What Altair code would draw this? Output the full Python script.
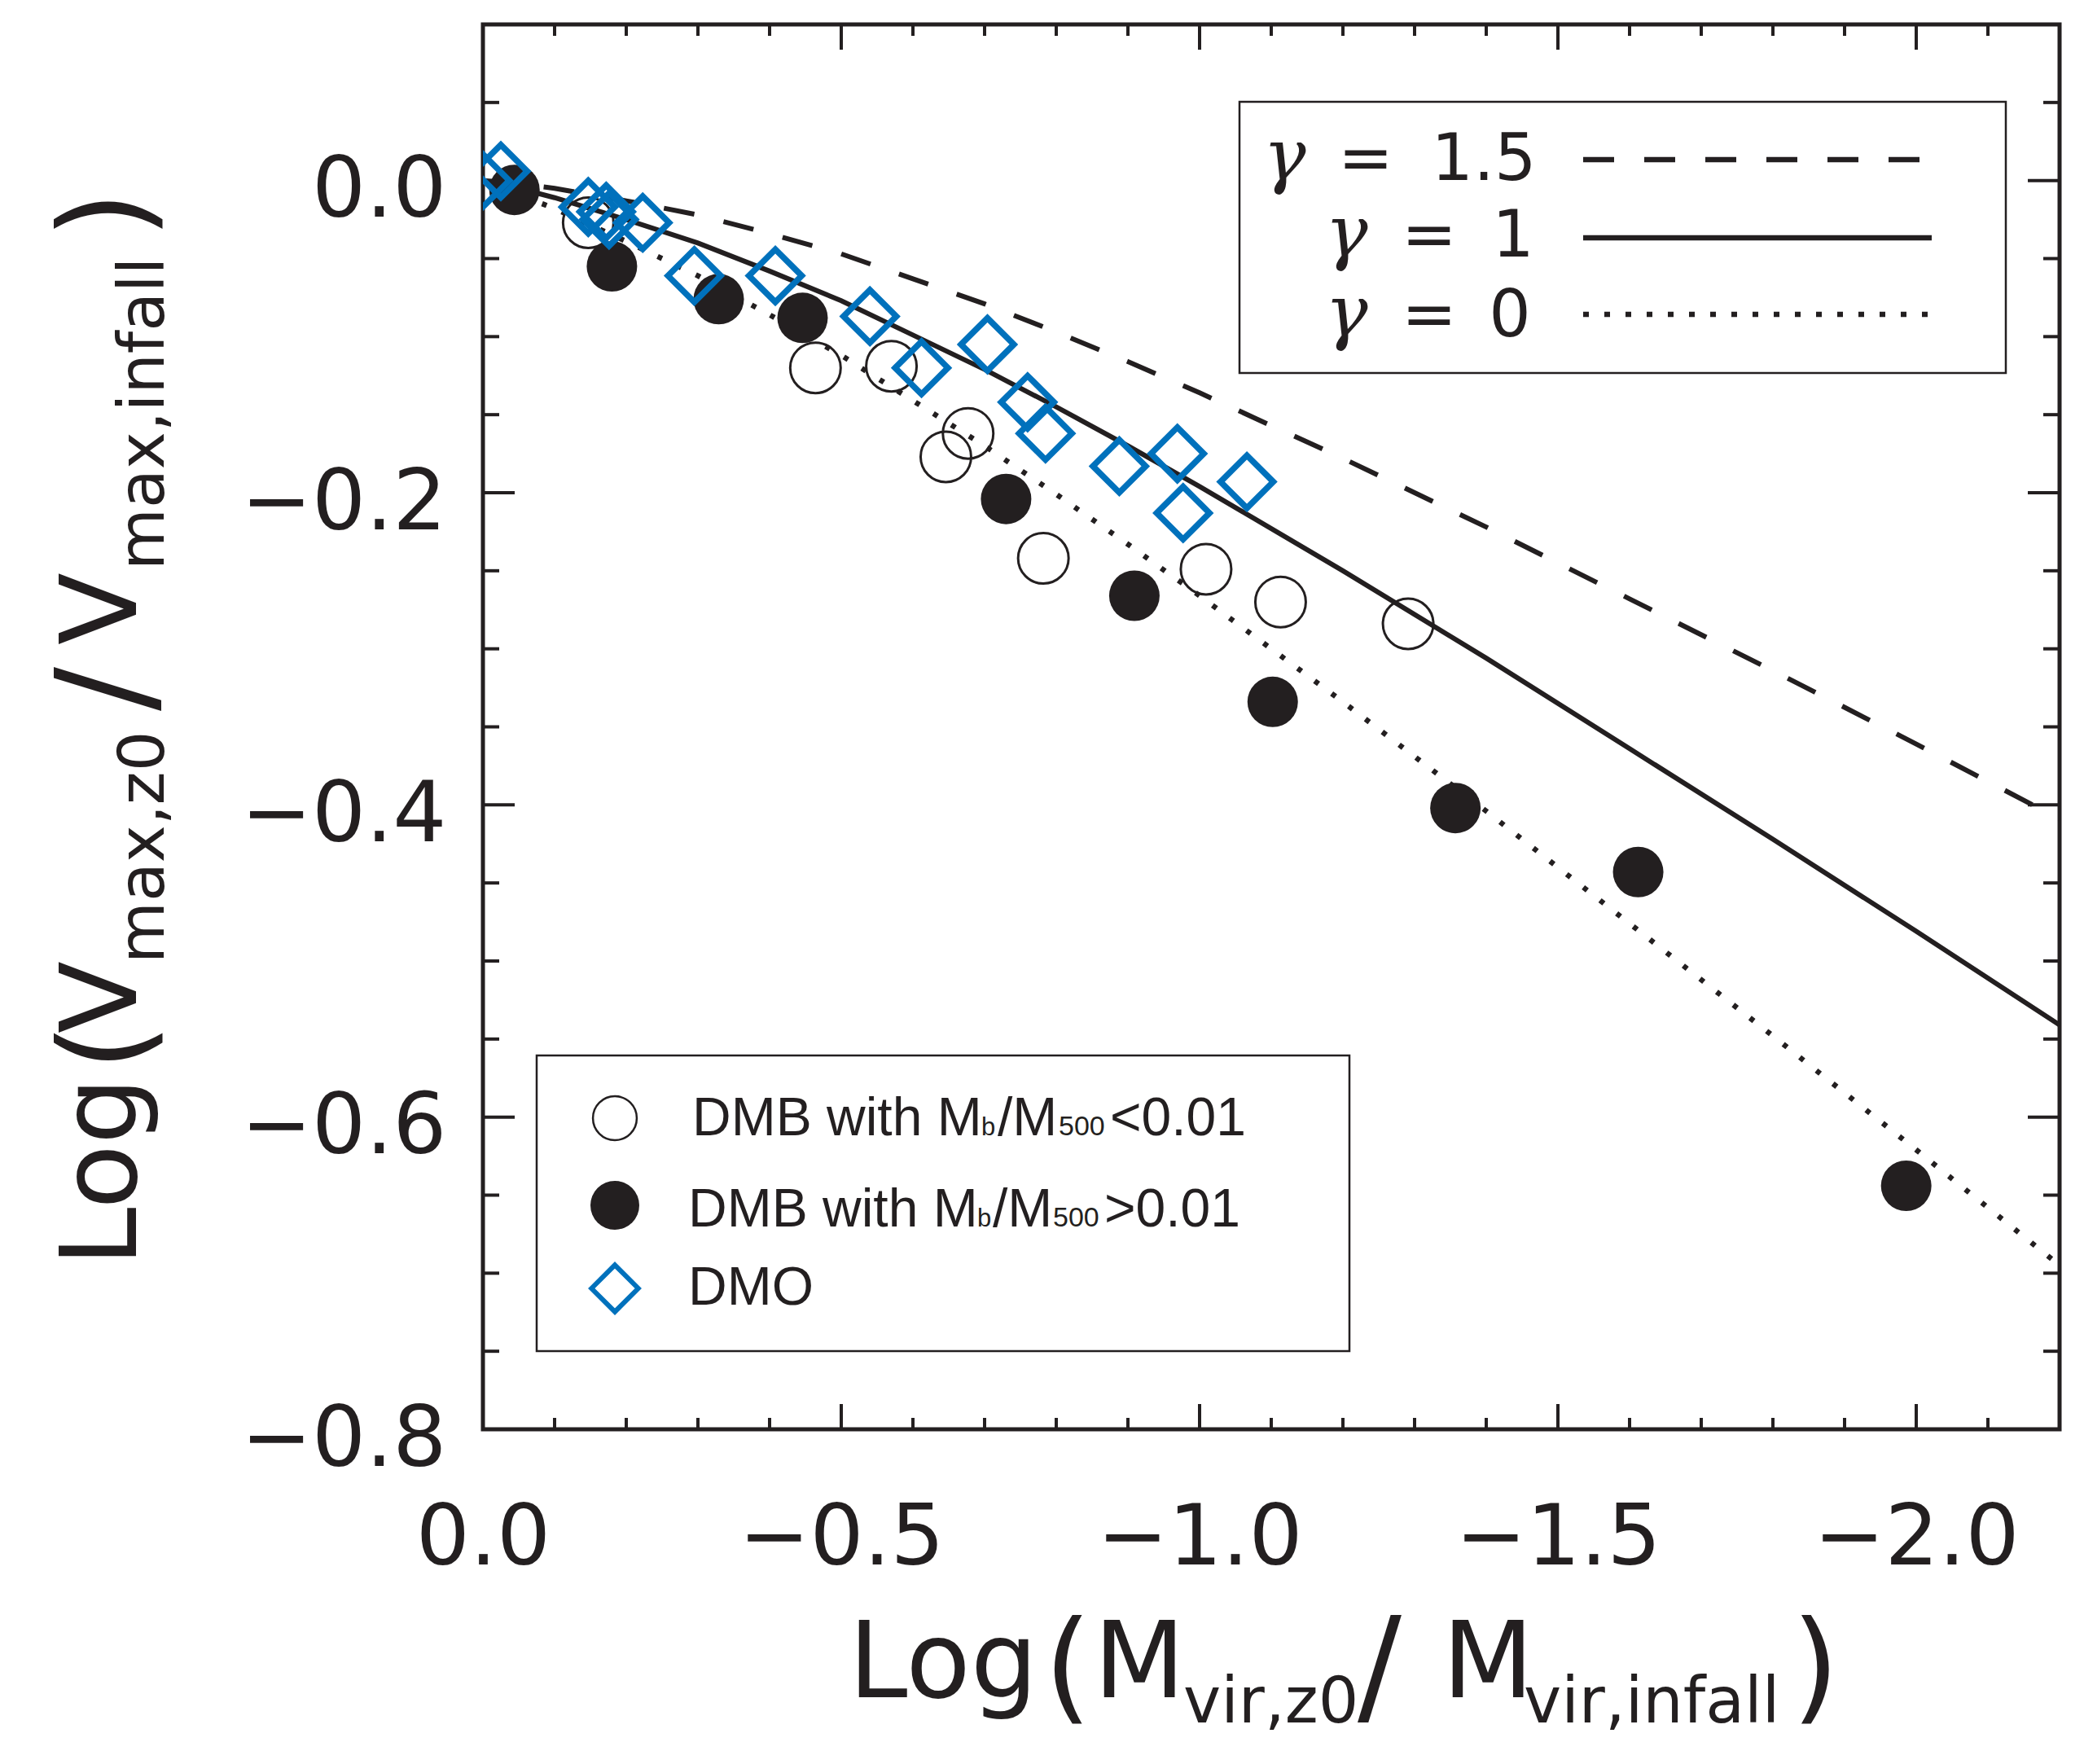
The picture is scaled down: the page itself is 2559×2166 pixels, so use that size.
import altair as alt
import pandas as pd

ink = '#231f20'
blue = '#0071bc'

# model tracks
curve_x = [0.0, -0.05, -0.1, -0.2, -0.3, -0.4, -0.5, -0.6, -0.7, -0.8, -0.9, -1.0,
           -1.2, -1.4, -1.6, -1.8, -2.0, -2.2]
curve_g15 = [0.0, -0.002, -0.005, -0.013, -0.022, -0.034, -0.047, -0.063, -0.079, -0.097,
             -0.116, -0.136, -0.178, -0.222, -0.268, -0.314, -0.361, -0.409]
curve_g10 = [0.0, -0.005, -0.011, -0.025, -0.040, -0.058, -0.077, -0.099, -0.121, -0.145,
             -0.170, -0.196, -0.250, -0.306, -0.364, -0.422, -0.481, -0.541]
curve_g00 = [0.0, -0.009, -0.018, -0.039, -0.061, -0.086, -0.112, -0.141, -0.170, -0.201,
             -0.233, -0.266, -0.334, -0.404, -0.476, -0.548, -0.621, -0.695]

# DMB with Mb/M500 < 0.01 (open circles)
low_x = [-0.147, -0.464, -0.570, -0.646, -0.677, -0.782, -1.009, -1.113, -1.291]
low_y = [-0.027, -0.120, -0.119, -0.177, -0.162, -0.242, -0.249, -0.270, -0.284]

# DMB with Mb/M500 > 0.01 (filled circles)
high_x = [-0.044, -0.180, -0.329, -0.446, -0.730, -0.909, -1.102, -1.357, -1.612, -1.986]
high_y = [-0.006, -0.055, -0.076, -0.088, -0.204, -0.266, -0.334, -0.402, -0.443, -0.644]

# DMO (diamonds)
dmo_x = [0.0, -0.025, -0.147, -0.172, -0.176, -0.223, -0.295, -0.408, -0.540, -0.612,
         -0.704, -0.760, -0.785, -0.888, -0.969, -0.977, -1.066]
dmo_y = [0.0, 0.006, -0.017, -0.020, -0.025, -0.027, -0.061, -0.061, -0.087, -0.120,
         -0.105, -0.142, -0.162, -0.183, -0.175, -0.213, -0.193]

x_labels = [0.0, -0.5, -1.0, -1.5, -2.0]
x_minor = [-0.1, -0.2, -0.3, -0.4, -0.6, -0.7, -0.8, -0.9, -1.1, -1.2, -1.3, -1.4,
           -1.6, -1.7, -1.8, -1.9, -2.1]
y_labels = [0.0, -0.2, -0.4, -0.6, -0.8]
y_minor = [0.05, -0.05, -0.1, -0.15, -0.25, -0.3, -0.35, -0.45, -0.5, -0.55,
           -0.65, -0.7, -0.75]

W, H = 1936, 1725
font = 'DejaVu Sans'

x_enc = alt.X('x:Q', scale=alt.Scale(domain=[0, -2.2], nice=False, zero=False),
              axis=alt.Axis(values=x_labels, format='.1f', tickSize=0, domain=False, grid=False,
                            labelFont=font, labelFontSize=104, labelColor=ink, labelLimit=600,
                            labelPadding=165, labelBaseline='alphabetic',
                            labelFlush=False, labelOverlap=False, title=''))
y_enc = alt.Y('y:Q', scale=alt.Scale(domain=[-0.8, 0.1], nice=False, zero=False),
              axis=alt.Axis(values=y_labels, format='.1f', tickSize=0, domain=False, grid=False,
                            labelFont=font, labelFontSize=104, labelColor=ink, labelLimit=600,
                            labelPadding=45, labelOffset=13, labelBaseline='middle',
                            labelFlush=False, labelOverlap=False, title=''))

one = pd.DataFrame({'a': [0]})


def txt(t, x, y, size, angle=0, fnt=font, style='normal', align='left'):
    return alt.Chart(one).mark_text(
        text=t, font=fnt, fontSize=size, fontStyle=style, color=ink, angle=angle,
        align=align, baseline='alphabetic'
    ).encode(x=alt.value(x), y=alt.value(y))


def curve(vals, **kw):
    df = pd.DataFrame({'x': curve_x, 'y': vals})
    return alt.Chart(df).mark_line(clip=True, color=ink, **kw).encode(x=x_enc, y=y_enc)


layers = []

# legend boxes
layers.append(alt.Chart(one).mark_rect(fill='white', stroke=ink, strokeWidth=2.5).encode(
    x=alt.value(929), x2=alt.value(1870), y=alt.value(95), y2=alt.value(428)))
layers.append(alt.Chart(one).mark_rect(fill='white', stroke=ink, strokeWidth=2.5).encode(
    x=alt.value(66), x2=alt.value(1064), y=alt.value(1266), y2=alt.value(1629)))

# curves
layers.append(curve(curve_g15, strokeWidth=6, strokeDash=[38, 37]))
layers.append(curve(curve_g10, strokeWidth=6))
layers.append(curve(curve_g00, strokeWidth=6.5, strokeDash=[6, 20]))

# ticks on all four sides, pointing inwards
for vals, ln in [(x_labels, 31), (x_minor, 14)]:
    d = pd.DataFrame({'x': vals})
    layers.append(alt.Chart(d).mark_rule(color=ink, strokeWidth=4).encode(
        x=x_enc, y=alt.value(H), y2=alt.value(H - ln)))
    layers.append(alt.Chart(d).mark_rule(color=ink, strokeWidth=4).encode(
        x=x_enc, y=alt.value(0), y2=alt.value(ln)))
for vals, ln in [(y_labels, 39), (y_minor, 20)]:
    d = pd.DataFrame({'y': vals})
    layers.append(alt.Chart(d).mark_rule(color=ink, strokeWidth=4).encode(
        y=y_enc, x=alt.value(0), x2=alt.value(ln)))
    layers.append(alt.Chart(d).mark_rule(color=ink, strokeWidth=4).encode(
        y=y_enc, x=alt.value(W), x2=alt.value(W - ln)))

# data points
layers.append(alt.Chart(pd.DataFrame({'x': low_x, 'y': low_y})).mark_point(
    shape='circle', filled=False, size=3844, strokeWidth=3, color=ink, opacity=1, clip=True
).encode(x=x_enc, y=y_enc))
layers.append(alt.Chart(pd.DataFrame({'x': high_x, 'y': high_y})).mark_point(
    shape='circle', filled=True, size=3844, color=ink, opacity=1, clip=True
).encode(x=x_enc, y=y_enc))
layers.append(alt.Chart(pd.DataFrame({'x': dmo_x, 'y': dmo_y})).mark_point(
    shape='diamond', filled=False, size=4200, strokeWidth=7.5, color=blue, opacity=1, clip=True
).encode(x=x_enc, y=y_enc))

# top-right legend (gamma tracks)
layers.append(alt.Chart(one).mark_rule(color=ink, strokeWidth=6.5, strokeDash=[38, 37]).encode(
    x=alt.value(1351), x2=alt.value(1779), y=alt.value(166)))
layers.append(alt.Chart(one).mark_rule(color=ink, strokeWidth=6.5).encode(
    x=alt.value(1351), x2=alt.value(1779), y=alt.value(262)))
layers.append(alt.Chart(one).mark_rule(color=ink, strokeWidth=6.5, strokeDash=[7, 19]).encode(
    x=alt.value(1351), x2=alt.value(1779), y=alt.value(356)))
for gx, ex, vx, val, by in [(958, 1084, 1229, '1.5', 191),
                            (1034, 1162, 1265, '1', 285),
                            (1034, 1162, 1261, '0', 383)]:
    layers.append(txt('γ', gx, by, 88, fnt='DejaVu Serif', style='italic'))
    layers.append(txt('=', ex, by, 81, align='center'))
    layers.append(txt(val, vx, by, 81, align='center'))

# bottom-left legend (samples)
sans = 'Liberation Sans'
layers.append(alt.Chart(one).mark_point(
    shape='circle', filled=False, size=2900, strokeWidth=2.5, color=ink, opacity=1
).encode(x=alt.value(162), y=alt.value(1343)))
layers.append(alt.Chart(one).mark_point(
    shape='circle', filled=True, size=3600, color=ink, opacity=1
).encode(x=alt.value(162), y=alt.value(1450)))
layers.append(alt.Chart(one).mark_point(
    shape='diamond', filled=False, size=3300, strokeWidth=6, color=blue, opacity=1
).encode(x=alt.value(162), y=alt.value(1552)))
for x0, xb, xs, x5, xr, rel, by in [(257, 612, 632, 707, 770, '<0.01', 1364),
                                    (252, 607, 626, 700, 763, '>0.01', 1476)]:
    layers.append(txt('DMB with M', x0, by, 66, fnt=sans))
    layers.append(txt('b', xb, by, 31, fnt=sans))
    layers.append(txt('/M', xs, by, 66, fnt=sans))
    layers.append(txt('500', x5, by, 34, fnt=sans))
    layers.append(txt(rel, xr, by, 66, fnt=sans))
layers.append(txt('DMO', 252, 1572, 66, fnt=sans))

# x axis title: Log(M_vir,z0 / M_vir,infall)
layers.append(txt('Log', 449, 2054, 130))
layers.append(txt('(', 689, 2067, 150))
layers.append(txt('M', 750, 2054, 130))
layers.append(txt('vir,z0', 860, 2085, 78))
layers.append(txt('/', 1074, 2070, 160))
layers.append(txt('M', 1178, 2054, 130))
layers.append(txt('vir,infall', 1278, 2085, 78))
layers.append(txt(')', 1607, 2067, 150))

# y axis title: Log(V_max,z0 / V_max,infall), rotated
layers.append(txt('Log', -426, 1525, 130, angle=270))
layers.append(txt('(', -413, 1285, 150, angle=270))
layers.append(txt('V', -426, 1239, 130, angle=270))
layers.append(txt('max,z0', -392, 1153, 78, angle=270))
layers.append(txt('/', -410, 843, 160, angle=270))
layers.append(txt('V', -426, 762, 130, angle=270))
layers.append(txt('max,infall', -392, 670, 78, angle=270))
layers.append(txt(')', -413, 263, 150, angle=270))

chart = alt.layer(*layers).properties(
    width=W, height=H,
    autosize=alt.AutoSizeParams(type='none'),
    padding={'left': 585, 'top': 22, 'right': 20, 'bottom': 400},
    background='white'
).configure_view(stroke=ink, strokeWidth=5)

chart.save("out.html", embed_options={"renderer": "svg", "actions": False})
